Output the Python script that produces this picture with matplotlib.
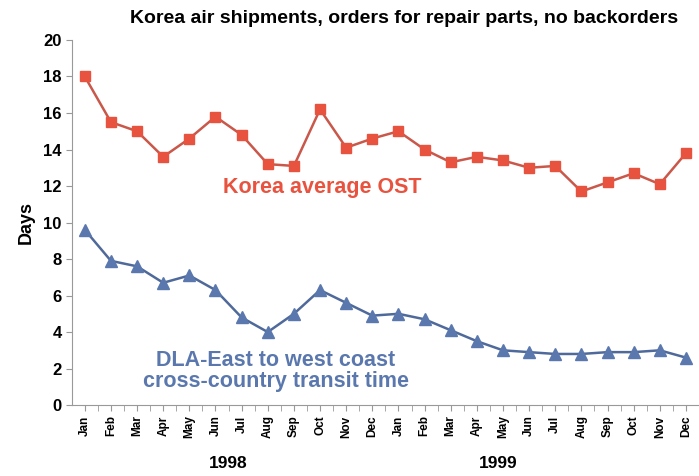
import numpy as np
import matplotlib
matplotlib.use("Agg")
import matplotlib.pyplot as plt

plt.rcParams['font.family'] = ['Liberation Sans', 'DejaVu Sans']
plt.rcParams['font.weight'] = 'bold'

months = ['Jan', 'Feb', 'Mar', 'Apr', 'May', 'Jun', 'Jul', 'Aug', 'Sep', 'Oct', 'Nov', 'Dec'] * 2
years = ['1998', '1999']
korea_ost = [18.0, 15.5, 15.0, 13.6, 14.6, 15.8, 14.8, 13.2, 13.1, 16.2, 14.1, 14.6,
             15.0, 14.0, 13.3, 13.6, 13.4, 13.0, 13.1, 11.7, 12.2, 12.7, 12.1, 13.8]
dla_transit = [9.6, 7.9, 7.6, 6.7, 7.1, 6.3, 4.8, 4.0, 5.0, 6.3, 5.6, 4.9,
               5.0, 4.7, 4.1, 3.5, 3.0, 2.9, 2.8, 2.8, 2.9, 2.9, 3.0, 2.6]

red = '#e8533f'
blue = '#5a78ad'

fig = plt.figure(figsize=(6.99, 4.76), dpi=100)
ax = fig.add_axes([0.103, 0.149, 0.897, 0.767])
x = np.arange(len(months))

ax.plot(x, korea_ost, color='#c9584a', lw=1.8, marker='s', ms=7,
        mfc=red, mec=red, zorder=3)
ax.plot(x, dla_transit, color='#4f6a9a', lw=1.8, marker='^', ms=9,
        mfc=blue, mec=blue, zorder=3)

ax.set_xlim(-0.49, 23.3)
ax.set_ylim(0, 20)
ax.set_yticks(range(0, 21, 2))
ax.set_xticks(x)
ax.set_xticks(x + 0.5, minor=True)
ax.set_xticklabels(months, rotation=90, fontsize=8.5, fontweight='bold')
ax.tick_params(axis='y', labelsize=12, length=4, color='#999999')
ax.tick_params(axis='x', which='both', length=4, color='#999999', direction='out')
for lab in ax.get_yticklabels():
    lab.set_fontweight('bold')

ax.spines['top'].set_visible(False)
ax.spines['right'].set_visible(False)
ax.spines['left'].set_color('#999999')
ax.spines['bottom'].set_color('#999999')

ax.set_ylabel('Days', fontsize=13, fontweight='bold', labelpad=6)

ax.text(9.07, 11.9, 'Korea average OST', color=red, fontsize=15.5,
        fontweight='bold', ha='center', va='center')
ax.text(7.3, 1.86, 'DLA-East to west coast\ncross-country transit time',
        color=blue, fontsize=15.5, fontweight='bold', ha='center', va='center',
        linespacing=1.0)

ax.text(5.5, -3.2, years[0], fontsize=12.5, fontweight='bold', ha='center', va='center')
ax.text(15.8, -3.2, years[1], fontsize=12.5, fontweight='bold', ha='center', va='center')

fig.text(0.578, 0.962, 'Korea air shipments, orders for repair parts, no backorders',
         fontsize=14, fontweight='bold', ha='center', va='center')

fig.savefig('out.png', dpi=100)
